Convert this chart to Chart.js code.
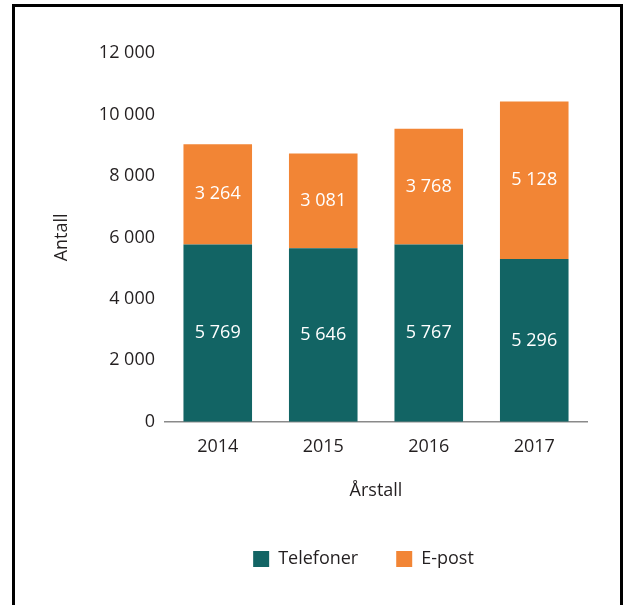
<!DOCTYPE html>
<html>
<head>
<meta charset="utf-8">
<script src="https://cdn.jsdelivr.net/npm/chart.js@4"></script>
<style>
  html, body { margin: 0; padding: 0; background: #fff; }
  #wrap { position: relative; width: 624px; height: 605px; overflow: hidden; }
  #frame { position: absolute; left: 12px; top: 4px; width: 605px; height: 700px;
           border: 3px solid #000; border-bottom: none; pointer-events: none; }
  canvas { position: absolute; left: 0; top: 0; }
</style>
</head>
<body>
<div id="wrap">
  <canvas id="c" width="624" height="605"></canvas>
  <div id="frame"></div>
</div>
<script>
const categories = ['2014', '2015', '2016', '2017'];
const telefoner = [5769, 5646, 5767, 5296];
const epost = [3264, 3081, 3768, 5128];
const seriesNames = ['Telefoner', 'E-post'];
const yTicks = [0, 2000, 4000, 6000, 8000, 10000, 12000];

const TEAL = '#126464';
const ORANGE = '#F28535';
const TEXT = '#231F20';
const FONT = 'Open Sans';

function fmt(v) {
  return String(Math.round(v)).replace(/\B(?=(\d{3})+(?!\d))/g, ' ');
}

const barLabels = {
  id: 'barLabels',
  afterDatasetsDraw(chart) {
    const ctx = chart.ctx;
    ctx.save();
    ctx.fillStyle = '#fff';
    ctx.font = '18px "' + FONT + '"';
    ctx.textAlign = 'center';
    ctx.textBaseline = 'middle';
    chart.data.datasets.forEach((ds, di) => {
      const meta = chart.getDatasetMeta(di);
      meta.data.forEach((bar, i) => {
        const y = (bar.y + bar.base) / 2;
        ctx.fillText(fmt(ds.data[i]), bar.x, y);
      });
    });
    ctx.restore();
  }
};

const legendShift = {
  id: 'legendShift',
  afterLayout(chart) {
    const lg = chart.legend;
    if (lg) { lg.left += 50; lg.right += 50; }
  }
};

Chart.defaults.font.family = FONT;
Chart.defaults.font.size = 18;
Chart.defaults.color = TEXT;

new Chart(document.getElementById('c'), {
  type: 'bar',
  data: {
    labels: categories,
    datasets: [
      { label: seriesNames[0], data: telefoner, backgroundColor: TEAL, borderWidth: 0 },
      { label: seriesNames[1], data: epost, backgroundColor: ORANGE, borderWidth: 0 }
    ]
  },
  options: {
    responsive: false,
    animation: false,
    devicePixelRatio: 1,
    layout: { padding: { left: 40, right: 37, top: 53, bottom: 27 } },
    datasets: { bar: { categoryPercentage: 0.65, barPercentage: 1 } },
    scales: {
      x: {
        stacked: true,
        grid: { display: false, drawTicks: false },
        border: { display: true, color: '#8a8a8a', width: 1.5 },
        ticks: { padding: 14, color: TEXT, font: { size: 18 } },
        title: { display: true, text: 'Årstall', color: TEXT, font: { size: 18 },
                 padding: { top: 9, bottom: 10 } }
      },
      y: {
        stacked: true,
        min: 0, max: 12000,
        afterBuildTicks(scale) { scale.ticks = yTicks.map(v => ({ value: v })); },
        afterFit(scale) { scale.width = 125; },
        grid: { display: false, drawTicks: false },
        border: { display: false },
        ticks: { padding: 10, color: TEXT, font: { size: 18 }, callback: v => fmt(v) },
        title: { display: true, text: 'Antall', color: TEXT, font: { size: 18 },
                 padding: { top: 11, bottom: 4 } }
      }
    },
    plugins: {
      legend: {
        position: 'bottom',
        labels: { boxWidth: 16, boxHeight: 16, padding: 38, color: TEXT, font: { size: 18 } }
      },
      tooltip: { enabled: false }
    }
  },
  plugins: [barLabels, legendShift]
});
</script>
</body>
</html>
